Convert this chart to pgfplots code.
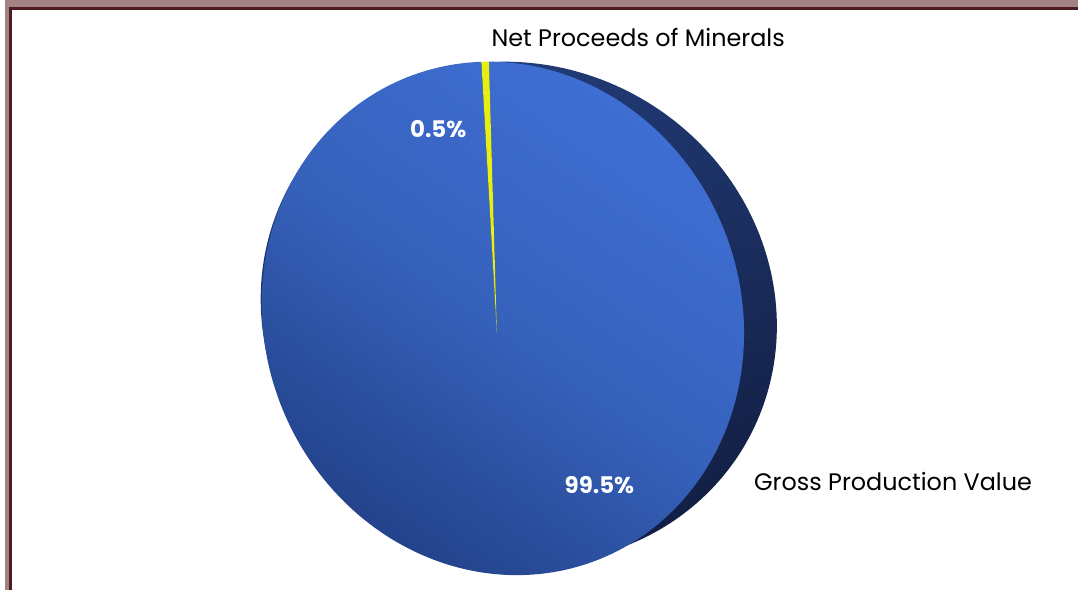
\documentclass[border=0pt]{standalone}
\usepackage{pgfplots}
\pgfplotsset{compat=1.18}
\usepackage{pgfplotstable}
\usepackage{fontspec}
\setmainfont{Poppins}
\definecolor{frameouter}{HTML}{A38284}
\definecolor{frameinner}{HTML}{4E1A24}
\definecolor{facelight}{HTML}{3F6ED4}
\definecolor{facemid}{HTML}{3662BC}
\definecolor{facedark}{HTML}{23428A}
\definecolor{rimdark}{HTML}{131F44}
\definecolor{rimmid}{HTML}{223C78}
\definecolor{sliceyellow}{HTML}{E6EE12}
\begin{document}
\pgfplotstableread{
share label
0.5 Net
99.5 Gross
}\piedata
\pgfplotstablegetelem{0}{share}\of\piedata \let\shareA\pgfplotsretval
\pgfplotstablegetelem{1}{share}\of\piedata \let\shareB\pgfplotsretval
\pgfmathsetmacro\angA{90+3.6*\shareA}
\pgfmathsetmacro\angB{\angA+3.6*\shareB}
\begin{tikzpicture}
\useasboundingbox (0,0) rectangle (1078pt,593pt);
\fill[white] (0,0) rectangle (1078pt,593pt);
\fill[frameouter] (0,586pt) rectangle (1078pt,593pt);
\fill[frameouter] (0,0) rectangle (4pt,593pt);
\fill[frameinner] (4pt,583pt) rectangle (1078pt,586pt);
\fill[frameinner] (4pt,0) rectangle (7pt,586pt);
\begin{axis}[x=1pt,y=1pt,xmin=0,xmax=1078,ymin=0,ymax=593,
  hide axis,anchor=origin,at={(0,0)},clip=false]
% rim (thickness of the disc)
\addplot[draw=none, left color=rimmid, right color=rimdark, shading angle=20, domain=0:360, samples=240]
  ({516+259*cos(x)-14*sin(x)},{279+252*sin(x)}) -- cycle;
% Gross Production Value
\addplot[draw=none, top color=facelight, bottom color=facedark, middle color=facemid, shading angle=-35,
  domain=\angA:\angB, samples=300]
  ({500+242*cos(x)-14*sin(x)},{273+258*sin(x)}) -- (axis cs:494,258) -- cycle;
% Net Proceeds of Minerals
\addplot[draw=none, fill=sliceyellow, domain=90:\angA, samples=5]
  ({500+242*cos(x)-14*sin(x)},{273+258*sin(x)}) -- (axis cs:494,258) -- cycle;
% labels
\node[font=\fontsize{24}{28}\selectfont] at (axis cs:636,555) {Net Proceeds of Minerals};
\node[font=\fontsize{24}{28}\selectfont, anchor=west] at (axis cs:749,109) {Gross Production Value};
\node[font=\bfseries\fontsize{23}{27}\selectfont, text=white] at (axis cs:435,463) {\shareA\%};
\node[font=\bfseries\fontsize{23}{27}\selectfont, text=white] at (axis cs:597,106) {\shareB\%};
\end{axis}
\end{tikzpicture}
\end{document}
